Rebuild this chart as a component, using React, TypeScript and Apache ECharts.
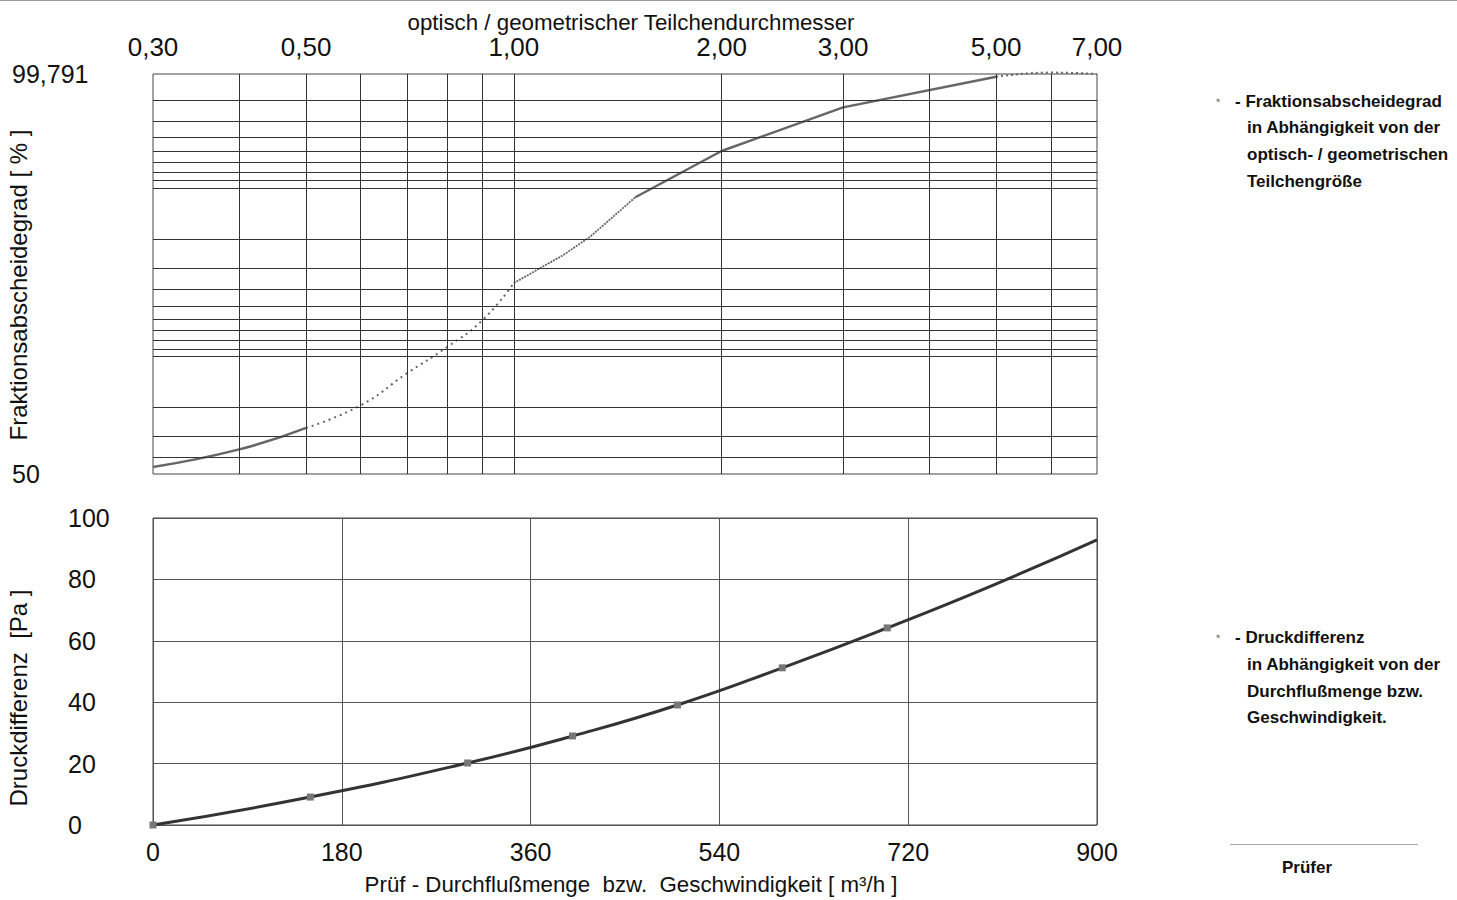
import React, { useEffect, useRef } from "react";
import * as echarts from "echarts";

// ---- upper chart: fractional efficiency vs particle size ----
const sizeLabelTicks = [0.3, 0.5, 1, 2, 3, 5, 7];
const sizeGridLines = [0.4, 0.5, 0.6, 0.7, 0.8, 0.9, 1, 2, 3, 4, 5, 6];
const effGridLines = [60, 70, 80, 90, 91, 92, 93, 94, 95, 96, 97, 98, 99, 99.1, 99.2, 99.3, 99.4, 99.5, 99.6, 99.7];
const effAxisEnds = [99.791, 50];

const segSolidLowSize = [0.3, 0.4, 0.5];
const segSolidLowEff = [54.6, 64.3, 73.4];
const segDottedSize = [0.5, 0.6, 0.7, 0.8, 0.9, 1.0];
const segDottedEff = [73.4, 80.5, 87.4, 91.2, 93.9, 96.34];
const segDenseSize = [1.0, 1.18, 1.29, 1.35, 1.5];
const segDenseEff = [96.34, 97.51, 98.06, 98.35, 98.87];
const segSolidHighSize = [1.5, 2.0, 3.0, 5.0];
const segSolidHighEff = [98.87, 99.4, 99.67, 99.783];
const segTopSize = [5.0, 6.0, 7.0];
const segTopEff = [99.783, 99.795, 99.791];

// ---- lower chart: pressure drop vs flow ----
const flowValues = [0, 150, 300, 400, 500, 600, 700, 800, 900];
const pressureValues = [0, 9.1, 20.2, 29.0, 39.1, 51.2, 64.2, 78.0, 92.9];
const flowMarked = [true, true, true, true, true, true, true, false, false];

const FONT = "'Liberation Sans', Arial, sans-serif";

const pen = (e: number) => 100 - e;
const pairs = (xs: number[], ys: number[]) => xs.map((x, i) => [x, pen(ys[i])]);

export default function App() {
  const ref = useRef<HTMLDivElement>(null);
  useEffect(() => {
    if (!ref.current) return;
    const chart = echarts.init(ref.current, undefined, { renderer: "svg" });
    const fmtEff = (v: number) => {
      const e = Math.round((100 - v) * 1000) / 1000;
      if (Math.abs(e - Math.round(e)) < 1e-6) return String(Math.round(e));
      return e.toFixed(3).replace(".", ",");
    };
    const curveColor = "#666";
    const legendFont = `bold 17px ${FONT}`;
    const option: any = {
      animation: false,
      backgroundColor: "#fff",
      textStyle: { fontFamily: FONT },
      grid: [
        { left: 153, top: 74, width: 944, height: 400, show: true, borderColor: "#444", borderWidth: 1, containLabel: false, outerBoundsMode: "none" },
        { left: 153, top: 518, width: 944, height: 307, show: true, borderColor: "#444", borderWidth: 1, containLabel: false, outerBoundsMode: "none" },
      ],
      xAxis: [
        {
          gridIndex: 0,
          type: "log",
          logBase: 10,
          min: 0.3,
          max: 7,
          position: "top",
          name: "optisch / geometrischer Teilchendurchmesser",
          nameLocation: "middle",
          nameGap: 41,
          nameTextStyle: { fontSize: 22.3, color: "#111", fontFamily: FONT, padding: [0, 0, 0, 12] },
          axisLine: { show: false },
          axisTick: { show: false },
          splitLine: { show: false },
          axisLabel: {
            show: true,
            customValues: sizeLabelTicks,
            margin: 14,
            fontSize: 26,
            color: "#111",
            fontFamily: FONT,
            formatter: (v: number) => v.toFixed(2).replace(".", ","),
          },
        },
        {
          gridIndex: 1,
          type: "value",
          min: 0,
          max: 900,
          interval: 180,
          name: "Prüf - Durchflußmenge  bzw.  Geschwindigkeit [ m³/h ]",
          nameLocation: "middle",
          nameGap: 48,
          nameTextStyle: { fontSize: 22.3, color: "#111", fontFamily: FONT, padding: [0, 0, 0, 12] },
          axisLine: { show: false },
          axisTick: { show: false },
          splitLine: { show: true, lineStyle: { color: "#555", width: 1 } },
          axisLabel: { margin: 14, fontSize: 25, color: "#111", fontFamily: FONT },
        },
      ],
      yAxis: [
        {
          gridIndex: 0,
          type: "log",
          logBase: 10,
          inverse: true,
          min: pen(effAxisEnds[0]),
          max: pen(effAxisEnds[1]),
          axisLine: { show: false },
          axisTick: { show: false },
          splitLine: { show: false },
          axisLabel: {
            show: true,
            customValues: [pen(effAxisEnds[0]) + 0.0001, pen(effAxisEnds[1]) - 0.0001],
            align: "left",
            margin: 141,
            fontSize: 25,
            color: "#111",
            fontFamily: FONT,
            formatter: fmtEff,
          },
        },
        {
          gridIndex: 1,
          type: "value",
          min: 0,
          max: 100,
          interval: 20,
          axisLine: { show: false },
          axisTick: { show: false },
          splitLine: { show: true, lineStyle: { color: "#555", width: 1 } },
          axisLabel: { align: "left", margin: 85, fontSize: 25, color: "#111", fontFamily: FONT },
        },
      ],
      series: [
        {
          type: "line",
          xAxisIndex: 0,
          yAxisIndex: 0,
          data: [[0.3, pen(50)]],
          symbol: "none",
          lineStyle: { opacity: 0 },
          z: 1,
          silent: true,
          markLine: {
            silent: true,
            symbol: ["none", "none"],
            label: { show: false },
            lineStyle: { color: "#333", width: 1, type: "solid" },
            emphasis: { disabled: true },
            data: [
              ...sizeGridLines.map((v) => ({ xAxis: v })),
              ...effGridLines.map((e) => ({ yAxis: pen(e) })),
            ],
          },
        },
        {
          type: "line",
          xAxisIndex: 0,
          yAxisIndex: 0,
          data: pairs(segSolidLowSize, segSolidLowEff),
          smooth: true,
          symbol: "none",
          z: 3,
          lineStyle: { color: curveColor, width: 2.5 },
        },
        {
          type: "line",
          xAxisIndex: 0,
          yAxisIndex: 0,
          data: pairs(segDottedSize, segDottedEff),
          smooth: true,
          symbol: "none",
          z: 3,
          lineStyle: { color: curveColor, width: 2, type: [2, 4] },
        },
        {
          type: "line",
          xAxisIndex: 0,
          yAxisIndex: 0,
          data: pairs(segDenseSize, segDenseEff),
          smooth: false,
          symbol: "none",
          z: 3,
          lineStyle: { color: curveColor, width: 1.8, type: [2, 1] },
        },
        {
          type: "line",
          xAxisIndex: 0,
          yAxisIndex: 0,
          data: pairs(segSolidHighSize, segSolidHighEff),
          smooth: false,
          symbol: "none",
          z: 3,
          lineStyle: { color: curveColor, width: 2.5 },
        },
        {
          type: "line",
          xAxisIndex: 0,
          yAxisIndex: 0,
          data: pairs(segTopSize, segTopEff),
          smooth: true,
          symbol: "none",
          clip: false,
          z: 3,
          lineStyle: { color: curveColor, width: 2, type: [2, 3] },
        },
        {
          type: "line",
          xAxisIndex: 1,
          yAxisIndex: 1,
          data: flowValues.map((f, i) => ({
            value: [f, pressureValues[i]],
            symbol: flowMarked[i] ? "rect" : "none",
          })),
          smooth: true,
          symbolSize: 7,
          clip: false,
          z: 3,
          itemStyle: { color: "#777" },
          lineStyle: { color: "#333", width: 3 },
        },
      ],
      graphic: [
        { type: "line", shape: { x1: 0, y1: 0.5, x2: 1457, y2: 0.5 }, style: { stroke: "#999", lineWidth: 1 } },
        {
          type: "text",
          x: 18,
          y: 285,
          rotation: Math.PI / 2,
          style: { text: "Fraktionsabscheidegrad [ % ]", font: `24px ${FONT}`, fill: "#111", textAlign: "center", textVerticalAlign: "middle" },
        },
        {
          type: "text",
          x: 18,
          y: 698,
          rotation: Math.PI / 2,
          style: { text: "Druckdifferenz  [Pa ]", font: `24px ${FONT}`, fill: "#111", textAlign: "center", textVerticalAlign: "middle" },
        },
        { type: "text", x: 1216, y: 101, style: { text: "•", font: `12px ${FONT}`, fill: "#999", textVerticalAlign: "middle" } },
        { type: "text", x: 1235, y: 101, style: { text: "- Fraktionsabscheidegrad", font: legendFont, fill: "#111", textVerticalAlign: "middle" } },
        { type: "text", x: 1247, y: 127, style: { text: "in Abhängigkeit von der", font: legendFont, fill: "#111", textVerticalAlign: "middle" } },
        { type: "text", x: 1247, y: 154, style: { text: "optisch- / geometrischen", font: legendFont, fill: "#111", textVerticalAlign: "middle" } },
        { type: "text", x: 1247, y: 181, style: { text: "Teilchengröße", font: legendFont, fill: "#111", textVerticalAlign: "middle" } },
        { type: "text", x: 1216, y: 637, style: { text: "•", font: `12px ${FONT}`, fill: "#999", textVerticalAlign: "middle" } },
        { type: "text", x: 1235, y: 637, style: { text: "- Druckdifferenz", font: legendFont, fill: "#111", textVerticalAlign: "middle" } },
        { type: "text", x: 1247, y: 664, style: { text: "in Abhängigkeit von der", font: legendFont, fill: "#111", textVerticalAlign: "middle" } },
        { type: "text", x: 1247, y: 691, style: { text: "Durchflußmenge bzw.", font: legendFont, fill: "#111", textVerticalAlign: "middle" } },
        { type: "text", x: 1247, y: 717, style: { text: "Geschwindigkeit.", font: legendFont, fill: "#111", textVerticalAlign: "middle" } },
        { type: "line", shape: { x1: 1230, y1: 844.5, x2: 1418, y2: 844.5 }, style: { stroke: "#aaa", lineWidth: 1 } },
        { type: "text", x: 1282, y: 867, style: { text: "Prüfer", font: legendFont, fill: "#111", textVerticalAlign: "middle" } },
      ],
    };
    chart.setOption(option);
    return () => chart.dispose();
  }, []);
  return <div ref={ref} style={{ position: "fixed", left: 0, top: 0, width: 1457, height: 900 }} />;
}
